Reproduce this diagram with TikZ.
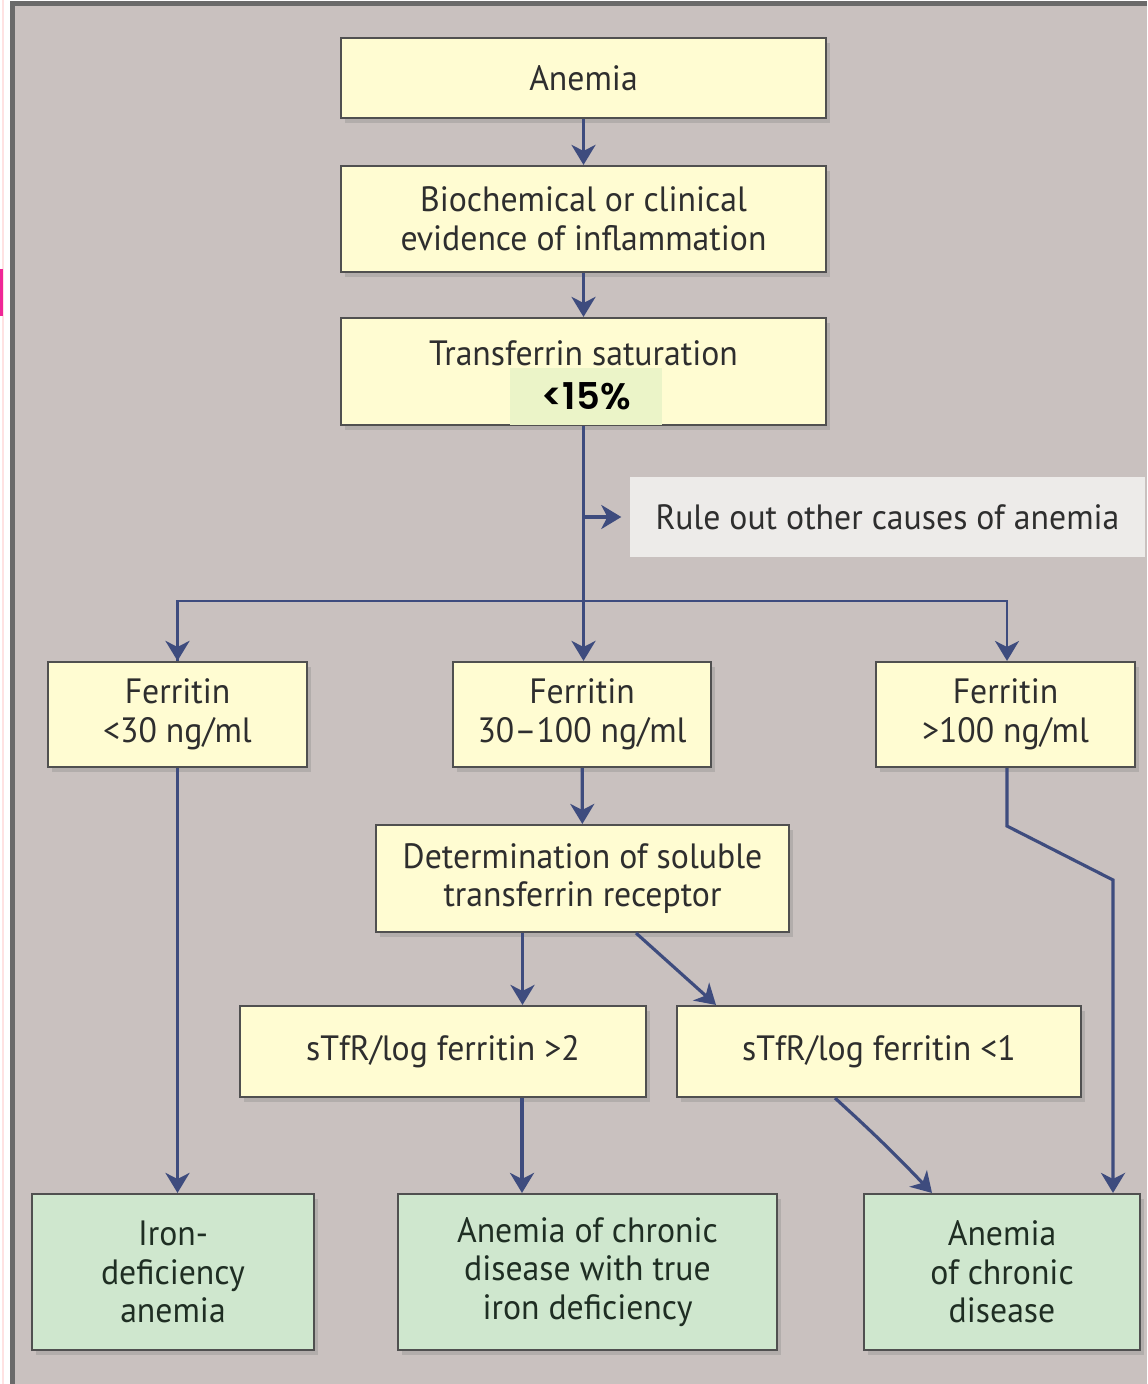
\documentclass[tikz,border=0pt]{standalone}
\usepackage{fontspec}
\setmainfont{PT Sans}[FakeStretch=0.96]
\newfontfamily\pctfont{Poppins}[BoldFont={* SemiBold}]
\usetikzlibrary{arrows.meta,shadows}

\definecolor{bgcol}{HTML}{C9C1BF}
\definecolor{framecol}{HTML}{6A6A6A}
\definecolor{boxyellow}{HTML}{FFFCD2}
\definecolor{boxgreen}{HTML}{CFE7CE}
\definecolor{rulegray}{HTML}{EDEBE9}
\definecolor{patchgreen}{HTML}{EBF4C8}
\definecolor{arrowcol}{HTML}{3E4C7E}
\definecolor{edgecol}{HTML}{505050}
\definecolor{txtcol}{HTML}{2E2E2E}
\definecolor{greentxt}{HTML}{1F2E23}

\begin{document}
\begin{tikzpicture}[every node/.style={font=\fontsize{10}{11}\selectfont, text=txtcol}, >={Stealth[length=2mm, width=2.4mm, inset=0.6mm]},
	box/.style={draw=edgecol, line width=0.6pt, fill=boxyellow, align=center, inner sep=0pt, drop shadow={opacity=0.3, shadow xshift=0.04cm, shadow yshift=-0.05cm}},
	endbox/.style={box, fill=boxgreen, text=greentxt},
	link/.style={->, draw=arrowcol, line width=0.9pt}]
	\useasboundingbox (0,0) rectangle (11.47,-13.84);
	% page and frame
	\fill[white] (0,0) rectangle (11.47,-13.84);
	\fill[pink!45] (0.025,0) rectangle (0.04,-13.84);
	\fill[magenta!80!pink] (0,-2.69) rectangle (0.03,-3.16);
	\fill[bgcol] (0.125,-0.035) rectangle (11.47,-13.84);
	\draw[framecol, line width=1.2pt] (0.125,-13.84) -- (0.125,-0.035) -- (11.47,-0.035);
	% top column
	\node[box, minimum width=4.85cm, minimum height=0.80cm] (anemia) at (5.835,-0.78) {Anemia};
	\node[box, minimum width=4.85cm, minimum height=1.06cm] (infl) at (5.835,-2.19) {Biochemical or clinical\\evidence of inflammation};
	\node[box, minimum width=4.85cm, minimum height=1.07cm] (tsat) at (5.835,-3.715) {};
	\node (tsattxt) at (5.835,-3.53) {Transferrin saturation};
	\node[fill=patchgreen, minimum width=1.52cm, minimum height=0.57cm, inner sep=0pt, font=\pctfont\bfseries\fontsize{10.5}{12}\selectfont, text=black] (lowsat) at (5.86,-3.965) {<15\%};
	\node[fill=rulegray, minimum width=5.15cm, minimum height=0.80cm, inner sep=0pt] (rule) at (8.875,-5.17) {Rule out other causes of anemia};
	% ferritin row
	\node[box, minimum width=2.59cm, minimum height=1.05cm] (flow) at (1.775,-7.145) {Ferritin\\<30 ng/ml};
	\node[box, minimum width=2.58cm, minimum height=1.05cm] (fmid) at (5.82,-7.145) {Ferritin\\30–100 ng/ml};
	\node[box, minimum width=2.59cm, minimum height=1.05cm] (fhigh) at (10.055,-7.145) {Ferritin\\>100 ng/ml};
	\node[box, minimum width=4.13cm, minimum height=1.07cm] (stfr) at (5.825,-8.785) {Determination of soluble\\transferrin receptor};
	\node[box, minimum width=4.06cm, minimum height=0.91cm] (ratiohi) at (4.43,-10.515) {sTfR/log ferritin >2};
	\node[box, minimum width=4.04cm, minimum height=0.91cm] (ratiolo) at (8.79,-10.515) {sTfR/log ferritin <1};
	% diagnoses
	\node[endbox, minimum width=2.82cm, minimum height=1.56cm] (ida) at (1.73,-12.72) {Iron-\\deficiency\\anemia};
	\node[endbox, minimum width=3.79cm, minimum height=1.56cm] (acdid) at (5.875,-12.72) {Anemia of chronic\\disease with true\\iron deficiency};
	\node[endbox, minimum width=2.76cm, minimum height=1.56cm] (acd) at (10.02,-12.72) {Anemia\\of chronic\\disease};
	% connectors
	\coordinate (split) at (5.835,-6.01);
	\coordinate (kink) at (11.13,-8.80);
	\draw[link] (anemia) -- (infl);
	\draw[link] (infl) -- (tsat);
	\draw[link] (tsat.south) -- (tsat.south |- fmid.north);
	\draw[link, shorten >=0.08cm] (tsat.south |- rule.west) -- (rule.west);
	\draw[link, -, line width=0.7pt] (split) -| (flow.north);
	\draw[link] (split -| flow.north) -- (flow.north);
	\draw[link, line width=0.7pt] (split) -| ([xshift=0.015cm]fhigh.north);
	\draw[link] (flow.south) -- (flow.south |- ida.north);
	\draw[link] (fmid) -- (stfr);
	\draw[link] ([xshift=-0.6cm]stfr.south) -- ([xshift=-0.6cm]stfr.south |- ratiohi.north);
	\draw[link] ([xshift=0.535cm]stfr.south) -- ([xshift=-1.63cm]ratiolo.north);
	\draw[link] ([xshift=0.79cm]ratiohi.south) -- ([xshift=0.79cm]ratiohi.south |- acdid.north);
	\draw[link] ([xshift=-0.44cm]ratiolo.south) to[bend left=2] ([xshift=-0.7cm]acd.north);
	\draw[link] ([xshift=0.015cm]fhigh.south) -- ++(0,-0.58) -- (kink) -- (kink |- acd.north);
\end{tikzpicture}
\end{document}
